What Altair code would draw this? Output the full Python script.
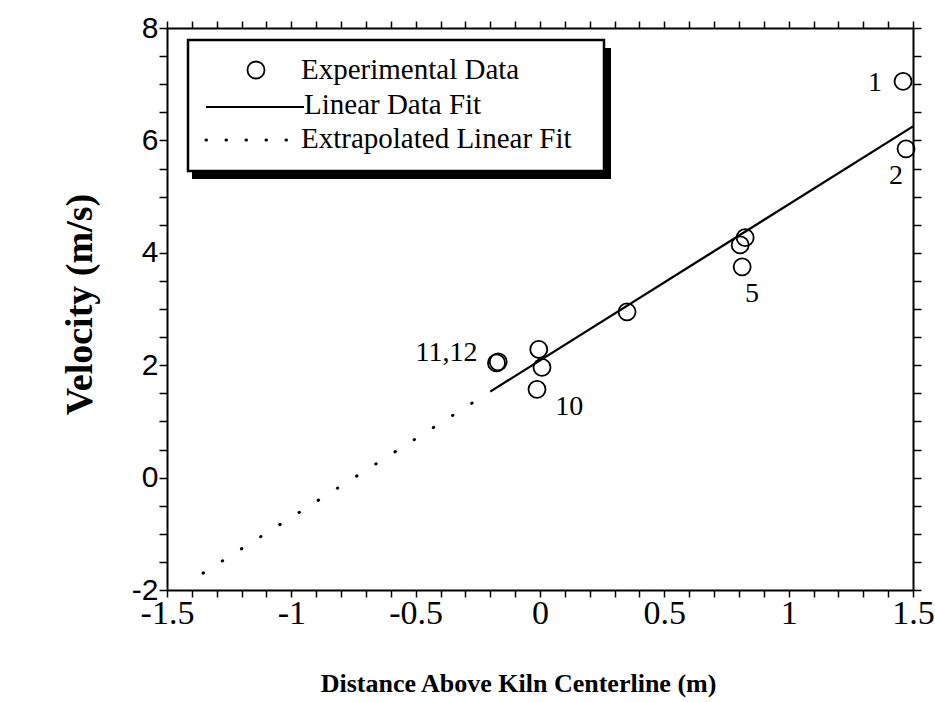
import altair as alt
import pandas as pd

# Experimental data points
pt_x = [1.46, 1.472, 0.805, 0.825, 0.813, 0.35, -0.005, 0.008, -0.012, -0.175, -0.168]
pt_y = [7.05, 5.85, 4.14, 4.27, 3.75, 2.95, 2.28, 1.96, 1.57, 2.04, 2.06]

# Linear data fit and its extrapolation
fit_x = [-0.2, 1.5]
fit_y = [1.53, 6.25]
ext_x = [-1.355, -0.2]
ext_y = [-1.70, 1.53]

# Point annotations
lab_text = ["1", "2", "5", "10", "11,12"]
lab_x = [1.347, 1.432, 0.853, 0.118, -0.376]
lab_y = [7.02, 5.36, 3.27, 1.26, 2.22]

# Ticks
x_ticks = [-1.5, -1.4, -1.3, -1.2, -1.1, -1, -0.9, -0.8, -0.7, -0.6, -0.5, -0.4, -0.3, -0.2, -0.1, 0,
           0.1, 0.2, 0.3, 0.4, 0.5, 0.6, 0.7, 0.8, 0.9, 1, 1.1, 1.2, 1.3, 1.4, 1.5]
x_labels = [-1.5, -1, -0.5, 0, 0.5, 1, 1.5]
y_ticks = [-2, -1.5, -1, -0.5, 0, 0.5, 1, 1.5, 2, 2.5, 3, 3.5, 4, 4.5, 5, 5.5, 6, 6.5, 7, 7.5, 8]
y_labels = [-2, 0, 2, 4, 6, 8]

FONT = "Liberation Serif"
SANS = "Liberation Sans"
W, H = 746, 562

pts = pd.DataFrame({"x": pt_x, "y": pt_y})
fit = pd.DataFrame({"x": fit_x, "y": fit_y})
ext = pd.DataFrame({"x": ext_x, "y": ext_y})
labs = pd.DataFrame({"x": lab_x, "y": lab_y, "t": lab_text})

xs = alt.Scale(domain=[-1.5, 1.5], nice=False, zero=False)
ys = alt.Scale(domain=[-2, 8], nice=False, zero=False)

xlab_expr = "indexof(%s, datum.value) >= 0 ? '' + datum.value : ''" % str(x_labels)
ylab_expr = "indexof(%s, datum.value) >= 0 ? '' + datum.value : ''" % str(y_labels)

common_axis = dict(domainColor="black", domainWidth=2, tickColor="black", tickWidth=1.5,
                   grid=False, labelOverlap=False, labelFlush=False, labelBound=False,
                   labelColor="black")

x_bottom = alt.Axis(orient="bottom", values=x_ticks, labelExpr=xlab_expr, tickSize=7,
                    labelPadding=-1, labelFont=FONT, labelFontSize=34,
                    title="Distance Above Kiln Centerline (m)",
                    titleFont=FONT, titleFontSize=26, titleFontWeight="bold", titleColor="black",
                    titleX=351, titleY=93, titleBaseline="middle", titleAlign="center",
                    **common_axis)
y_left = alt.Axis(orient="left", values=y_ticks, labelExpr=ylab_expr, tickSize=8,
                  labelPadding=1, labelFont=SANS, labelFontSize=30,
                  title="Velocity (m/s)",
                  titleFont=FONT, titleFontSize=38, titleFontWeight="bold", titleColor="black",
                  titleX=-87, titleY=276, titleAngle=270, titleBaseline="middle", titleAlign="center",
                  **common_axis)
x_top = alt.Axis(orient="top", values=x_ticks, labels=False, tickSize=7, title=None,
                 domainColor="black", domainWidth=2, tickColor="black", tickWidth=1.5, grid=False)
y_right = alt.Axis(orient="right", values=y_ticks, labels=False, tickSize=8, title=None,
                   domainColor="black", domainWidth=2, tickColor="black", tickWidth=1.5, grid=False)

points = alt.Chart(pts).mark_point(shape="circle", filled=False, color="black", size=290,
                                   strokeWidth=1.8, opacity=1).encode(
    x=alt.X("x:Q", scale=xs, axis=x_bottom),
    y=alt.Y("y:Q", scale=ys, axis=y_left),
)

fit_line = alt.Chart(fit).mark_line(color="black", strokeWidth=2.3).encode(
    x=alt.X("x:Q", scale=xs, axis=x_top),
    y=alt.Y("y:Q", scale=ys, axis=y_right),
)

ext_line = alt.Chart(ext).mark_line(color="black", strokeWidth=3, strokeCap="round",
                                    strokeDash=[0.5, 22.2]).encode(
    x=alt.X("x:Q", scale=xs, axis=None),
    y=alt.Y("y:Q", scale=ys, axis=None),
)

annot = alt.Chart(labs).mark_text(font=FONT, fontSize=28, color="black", align="center",
                                  baseline="middle").encode(
    x=alt.X("x:Q", scale=xs, axis=None),
    y=alt.Y("y:Q", scale=ys, axis=None),
    text="t:N",
)

# Legend box (decoration, positioned in plot pixels)
one = alt.Data(values=[{}])
shadow = alt.Chart(one).mark_rect(color="black").encode(
    x=alt.value(25), x2=alt.value(444), y=alt.value(20), y2=alt.value(151))
box = alt.Chart(one).mark_rect(fill="white", stroke="black", strokeWidth=2.5).encode(
    x=alt.value(21), x2=alt.value(437), y=alt.value(12), y2=alt.value(143))
leg_pt = alt.Chart(one).mark_point(shape="circle", filled=False, color="black", size=290,
                                   strokeWidth=1.8, opacity=1).encode(
    x=alt.value(89), y=alt.value(42))
leg_solid = alt.Chart(one).mark_rule(color="black", strokeWidth=2).encode(
    x=alt.value(39), x2=alt.value(137), y=alt.value(79))
leg_dot = alt.Chart(one).mark_rule(color="black", strokeWidth=3, strokeCap="round",
                                   strokeDash=[0.5, 19.5]).encode(
    x=alt.value(39), x2=alt.value(120), y=alt.value(112))
leg_t1 = alt.Chart(one).mark_text(text="Experimental Data", font=FONT, fontSize=29, color="black",
                                  align="left", baseline="middle").encode(
    x=alt.value(134), y=alt.value(42))
leg_t2 = alt.Chart(one).mark_text(text="Linear Data Fit", font=FONT, fontSize=29, color="black",
                                  align="left", baseline="middle").encode(
    x=alt.value(137), y=alt.value(77))
leg_t3 = alt.Chart(one).mark_text(text="Extrapolated Linear Fit", font=FONT, fontSize=29,
                                  color="black", align="left", baseline="middle").encode(
    x=alt.value(134), y=alt.value(111))

chart = alt.layer(
    points, fit_line, ext_line, annot,
    shadow, box, leg_pt, leg_solid, leg_dot, leg_t1, leg_t2, leg_t3,
).resolve_axis(x="independent", y="independent").properties(
    width=W, height=H,
    autosize=alt.AutoSizeParams(type="none"),
    padding={"left": 167, "top": 28, "right": 22, "bottom": 112},
    background="white",
).configure_view(stroke=None)

chart.save("out.html", embed_options={"renderer": "svg", "actions": False})
